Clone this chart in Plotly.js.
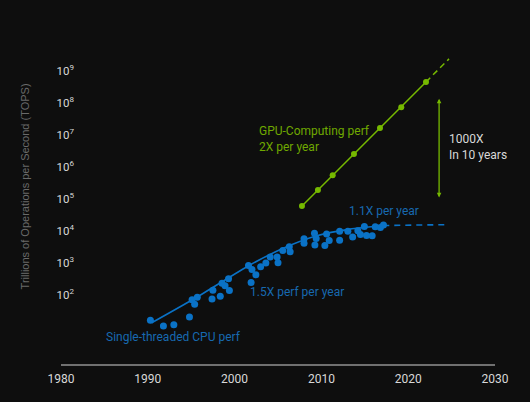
<!DOCTYPE html>
<html>
<head>
<meta charset="utf-8">
<script src="https://cdn.plot.ly/plotly-3.0.1.min.js"></script>
<style>
  html, body { margin: 0; padding: 0; background: #0e0e0e; }
  #chart { width: 530px; height: 402px; }
</style>
</head>
<body>
<div id="chart"></div>
<script>
// Single-threaded CPU performance (scatter)
const cpuYears = [1990.3,1991.8,1993.0,1994.8,1995.1,1995.4,1995.7,1997.4,1997.5,1998.35,1998.55,1998.9,
  1999.4,1999.3,2001.6,2001.9,2002.0,2002.45,2003.0,2003.6,2004.1,2005.0,2004.9,2005.55,
  2006.3,2006.4,2008.0,2008.0,2009.2,2009.25,2009.4,2010.4,2010.6,2010.9,2012.1,2012.1,
  2013.05,2013.6,2014.2,2014.5,2014.95,2015.2,2015.85,2016.2,2016.8,2017.15];
const cpuTops = [16,10.5,11.5,20,69,50,83,74,138,89,229,191,
  135,316,813,240,617,417,741,977,1510,1000,1510,2400,
  3160,2190,5620,4070,8320,3550,5750,3470,7940,4900,9550,5010,
  9550,6310,10000,7590,13500,7080,6920,13200,12600,15100];

// CPU trend line and its projection
const cpuTrendYears = [1990.45,1995.44,2001.77,2005.61,2009.46,2013.29,2017.13];
const cpuTrendTops  = [13.3,77.6,851,2820,6920,11200,14500];
const cpuProjYears = [2017.13,2024.73];
const cpuProjTops  = [14500,15500];

// GPU-computing performance
const gpuYears = [2007.76,2009.6,2011.3,2013.75,2016.75,2019.2,2022.05];
const gpuTops  = [58900,186000,537000,2510000,16200000,72400000,447000000];
const gpuProjYears = [2022.05,2024.7];
const gpuProjTops  = [447000000,2340000000];

// Axis ticks
const xTicks = [1980,1990,2000,2010,2020,2030];
const yTickVals = [1e2,1e3,1e4,1e5,1e6,1e7,1e8,1e9];
const yTickText = ['10<sup>2</sup>','10<sup>3</sup>','10<sup>4</sup>','10<sup>5</sup>',
                   '10<sup>6</sup>','10<sup>7</sup>','10<sup>8</sup>','10<sup>9</sup>'];

const BLUE = '#0a72c6';
const GREEN = '#76b900';
const FONT = 'Roboto, "DejaVu Sans", sans-serif';

const traces = [
  { x: cpuTrendYears, y: cpuTrendTops, mode: 'lines', type: 'scatter',
    line: { color: BLUE, width: 1.6, shape: 'spline', smoothing: 0.6 }, hoverinfo: 'skip' },
  { x: cpuProjYears, y: cpuProjTops, mode: 'lines', type: 'scatter',
    line: { color: BLUE, width: 1.6, dash: '6px,5px' }, hoverinfo: 'skip' },
  { x: cpuYears, y: cpuTops, mode: 'markers', type: 'scatter',
    marker: { color: BLUE, size: 7 } },
  { x: gpuProjYears, y: gpuProjTops, mode: 'lines', type: 'scatter',
    line: { color: GREEN, width: 1.5, dash: '6px,4px' }, hoverinfo: 'skip' },
  { x: gpuYears, y: gpuTops, mode: 'lines+markers', type: 'scatter',
    line: { color: GREEN, width: 1.5 }, marker: { color: GREEN, size: 6 } }
];

const layout = {
  width: 530, height: 402,
  paper_bgcolor: '#0e0e0e', plot_bgcolor: '#0e0e0e',
  margin: { l: 61, r: 35, t: 40, b: 38 },
  showlegend: false,
  font: { family: FONT, size: 12, color: '#d0d0d0' },
  xaxis: {
    range: [1980, 2030], tickvals: xTicks, showgrid: false, zeroline: false,
    showline: true, linecolor: '#707070', linewidth: 1.5,
    ticks: 'outside', ticklen: 3, tickcolor: 'rgba(0,0,0,0)',
    tickfont: { family: FONT, size: 12, color: '#d8d8d8' }
  },
  yaxis: {
    type: 'log', range: [-0.166, 9.96], tickvals: yTickVals, ticktext: yTickText,
    showgrid: false, zeroline: false, showline: false, ticks: '',
    anchor: 'free', position: 0.03,
    tickfont: { family: FONT, size: 11.5, color: '#d8d8d8' }
  },
  annotations: [
    { xref: 'paper', yref: 'paper', x: -0.083, y: 0.548, textangle: -90, showarrow: false,
      text: 'Trillions of Operations per Second (TOPS)', xanchor: 'center', yanchor: 'middle',
      font: { family: '"Liberation Sans", Arial, sans-serif', size: 11, color: '#6a6a6a' } },
    { x: 2002.6, y: 6.866, xanchor: 'left', yanchor: 'middle', align: 'left', showarrow: false,
      text: 'GPU-Computing perf<br>2X per year', font: { color: '#6fa800', size: 12 } },
    { x: 2024.5, y: 6.61, xanchor: 'left', yanchor: 'middle', align: 'left', showarrow: false,
      text: '1000X<br>In 10 years', font: { color: '#d8d8d8', size: 12 } },
    { x: 2012.9, y: 4.625, xanchor: 'left', yanchor: 'middle', showarrow: false,
      text: '1.1X per year', font: { color: '#1769b0', size: 12 } },
    { x: 2001.5, y: 2.07, xanchor: 'left', yanchor: 'middle', showarrow: false,
      text: '1.5X perf per year', font: { color: '#1769b0', size: 12 } },
    { x: 1984.9, y: 0.669, xanchor: 'left', yanchor: 'middle', showarrow: false,
      text: 'Single-threaded CPU perf', font: { color: '#1769b0', size: 12 } },
    { x: 2023.56, y: 5.04, axref: 'x', ayref: 'y', ax: 2023.56, ay: 8.17, text: '',
      showarrow: true, arrowside: 'end+start', arrowhead: 2, arrowsize: 0.7,
      arrowwidth: 1.3, arrowcolor: GREEN, standoff: 0, startstandoff: 0 }
  ]
};

Plotly.newPlot('chart', traces, layout, { displayModeBar: false, staticPlot: true });
</script>
</body>
</html>
